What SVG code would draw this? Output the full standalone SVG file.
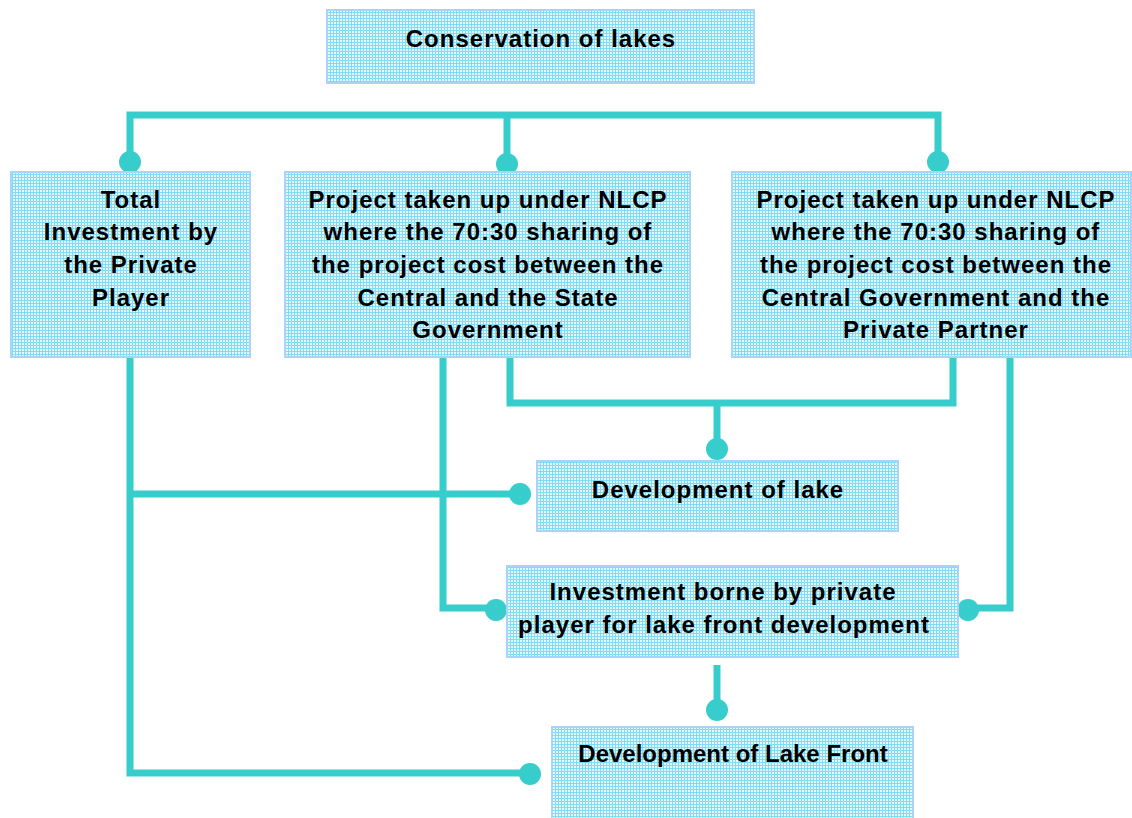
<svg xmlns="http://www.w3.org/2000/svg" width="1132" height="818" viewBox="0 0 1132 818">
<defs>
<pattern id="grid" width="3" height="3" patternUnits="userSpaceOnUse">
<rect width="3" height="3" fill="#e4f8fd"/>
<rect x="0" y="0" width="1" height="3" fill="#7fdcf4"/>
<rect x="0" y="0" width="3" height="1" fill="#7fdcf4"/>
</pattern>
<style>
.box{fill:url(#grid);stroke:#a9d3f7;stroke-width:2}
.t{font-family:"Liberation Sans",Arial,sans-serif;font-weight:bold;font-size:24px;letter-spacing:1px;fill:#000;text-anchor:middle}
.n{letter-spacing:0}
.c{fill:none;stroke:#36cdcc;stroke-width:7}
.d{fill:#36cdcc}
</style>
</defs>
<rect width="1132" height="818" fill="#fff"/>
<g id="connectors">
<path class="c" d="M130,160 V115 H938 V160"/>
<path class="c" d="M507,115 V160"/>
<path class="c" d="M510,357 V403 H953 V357"/>
<path class="c" d="M717,403 V447"/>
<path class="c" d="M130,357 V773 H528"/>
<path class="c" d="M130,494 H518"/>
<path class="c" d="M443,357 V608 H494"/>
<path class="c" d="M1010,357 V608 H968"/>
<path class="c" d="M717,665 V708"/>
<circle class="d" cx="130" cy="162" r="11"/>
<circle class="d" cx="507" cy="164" r="11"/>
<circle class="d" cx="938" cy="162" r="11"/>
<circle class="d" cx="717" cy="449" r="11"/>
<circle class="d" cx="520" cy="494" r="11"/>
<circle class="d" cx="496" cy="610" r="11"/>
<circle class="d" cx="968" cy="610" r="11"/>
<circle class="d" cx="717" cy="710" r="11"/>
<circle class="d" cx="530" cy="774" r="11"/>
</g>
<g id="n_conservation">
<rect class="box" x="327" y="10" width="427" height="73"/>
<text class="t" x="541" y="47">Conservation of lakes</text>
</g>
<g id="n_total">
<rect class="box" x="11" y="172" width="239" height="185"/>
<text class="t" x="131" y="208">Total</text>
<text class="t" x="131" y="240">Investment by</text>
<text class="t" x="131" y="273">the Private</text>
<text class="t" x="131" y="306">Player</text>
</g>
<g id="n_state">
<rect class="box" x="285" y="172" width="405" height="185"/>
<text class="t" x="488" y="208">Project taken up under NLCP</text>
<text class="t" x="488" y="240">where the 70:30 sharing of</text>
<text class="t" x="488" y="273">the project cost between the</text>
<text class="t" x="488" y="306">Central and the State</text>
<text class="t" x="488" y="338">Government</text>
</g>
<g id="n_private">
<rect class="box" x="732" y="172" width="399" height="185"/>
<text class="t" x="936" y="208">Project taken up under NLCP</text>
<text class="t" x="936" y="240">where the 70:30 sharing of</text>
<text class="t" x="936" y="273">the project cost between the</text>
<text class="t" x="936" y="306">Central Government and the</text>
<text class="t" x="936" y="338">Private Partner</text>
</g>
<g id="n_devlake">
<rect class="box" x="537" y="461" width="361" height="70"/>
<text class="t" x="718" y="498">Development of lake</text>
</g>
<g id="n_investment">
<rect class="box" x="507" y="566" width="451" height="91"/>
<text class="t" x="723" y="600">Investment borne by private</text>
<text class="t" x="724" y="633">player for lake front development</text>
</g>
<g id="n_lakefront">
<rect class="box" x="552" y="727" width="361" height="95"/>
<text class="t n" x="733" y="762">Development of Lake Front</text>
</g>
</svg>
